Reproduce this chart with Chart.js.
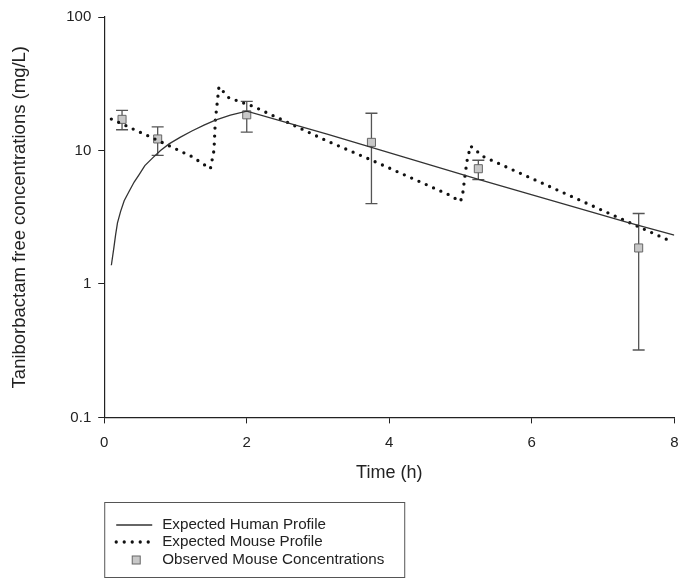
<!DOCTYPE html>
<html>
<head>
<meta charset="utf-8">
<script src="https://cdn.jsdelivr.net/npm/chart.js@4.4.1/dist/chart.umd.min.js"></script>
<style>
    body { margin: 0; background: #fff; }
    #wrap { width: 681px; height: 578px; }
</style>
</head>
<body>
<div id="wrap"><canvas id="pkChart" width="681" height="578"></canvas></div>
<script>
// values (time in h, concentration in mg/L)
const humanTimes = [0.1, 0.135, 0.16, 0.186, 0.23, 0.28, 0.35, 0.42, 0.49, 0.57, 0.68, 0.79, 0.91, 1.07, 1.23, 1.4, 1.56, 1.77, 2.0, 3.14, 5.24, 7.33, 8.0];
const humanConc = [1.38, 1.86, 2.34, 2.87, 3.5, 4.2, 4.95, 5.8, 6.6, 7.7, 8.8, 10.0, 11.2, 12.6, 14.0, 15.5, 16.9, 18.4, 19.7, 13.2, 6.1, 2.9, 2.32];

const mouseTimes = [0.1, 0.68, 1.23, 1.49, 1.54, 1.56, 1.61, 1.75, 2.1, 3.14, 3.7, 4.26, 4.82, 5.0, 5.03, 5.06, 5.09, 5.14, 5.32, 7.94];
const mouseConc = [17.2, 12.4, 9.0, 7.3, 10.0, 17.0, 30.0, 24.8, 21.3, 11.7, 8.7, 6.4, 4.7, 4.15, 4.7, 6.3, 8.3, 10.8, 9.0, 2.1];

const obsTimes = [0.25, 0.75, 2, 3.75, 5.25, 7.5];
const obsMean = [17.1, 12.2, 18.5, 11.5, 7.3, 1.86];
const obsLow = [14.3, 9.2, 13.7, 4.0, 6.05, 0.32];
const obsHigh = [20.0, 15.0, 23.3, 19.0, 8.45, 3.37];

const xTicks = [0, 2, 4, 6, 8];
const yTicks = [0.1, 1, 10, 100];
const yTickLabels = ['0.1', '1', '10', '100'];

const FONT = '"Liberation Sans", Arial, sans-serif';
const TEXT = '#222';

function toPoints(xs, ys) {
    return xs.map((t, i) => ({ x: t, y: ys[i] }));
}

// error bars drawn under the markers
const errorBars = {
    id: 'errorBars',
    beforeDatasetsDraw(chart) {
        const { ctx, scales: { x, y } } = chart;
        ctx.save();
        ctx.strokeStyle = '#555';
        ctx.lineWidth = 1.3;
        obsTimes.forEach((t, i) => {
            const px = x.getPixelForValue(t);
            const top = y.getPixelForValue(obsHigh[i]);
            const bot = y.getPixelForValue(obsLow[i]);
            ctx.beginPath();
            ctx.moveTo(px, top);
            ctx.lineTo(px, bot);
            ctx.moveTo(px - 6, top);
            ctx.lineTo(px + 6, top);
            ctx.moveTo(px - 6, bot);
            ctx.lineTo(px + 6, bot);
            ctx.stroke();
        });
        ctx.restore();
    }
};

// boxed legend under the axis title
const boxLegend = {
    id: 'boxLegend',
    afterDraw(chart) {
        const ctx = chart.ctx;
        const left = chart.chartArea.left;
        const top = chart.height - 76;
        ctx.save();
        ctx.strokeStyle = '#555';
        ctx.lineWidth = 1;
        ctx.strokeRect(left + 0.5, top + 0.5, 300, 75);
        ctx.font = '15.2px ' + FONT;
        ctx.textBaseline = 'middle';
        chart.data.datasets.forEach((ds, i) => {
            const yy = Math.round(top + 22.5 + i * 17.5);
            if (ds.showLine === false) {
                ctx.fillStyle = ds.backgroundColor;
                ctx.strokeStyle = ds.borderColor;
                ctx.lineWidth = 1;
                ctx.fillRect(left + 28, yy - 4, 8, 8);
                ctx.strokeRect(left + 28, yy - 4, 8, 8);
            } else {
                ctx.strokeStyle = ds.borderColor;
                ctx.lineWidth = ds.borderWidth;
                ctx.lineCap = ds.borderCapStyle || 'butt';
                ctx.setLineDash(ds.borderDash || []);
                ctx.beginPath();
                ctx.moveTo(left + 12, yy);
                ctx.lineTo(left + 48, yy);
                ctx.stroke();
                ctx.setLineDash([]);
            }
            ctx.fillStyle = TEXT;
            ctx.fillText(ds.label, left + 58, yy);
        });
        ctx.restore();
    }
};

const ctx = document.getElementById('pkChart').getContext('2d');

new Chart(ctx, {
    type: 'line',
    data: {
        datasets: [
            {
                label: 'Expected Human Profile',
                data: toPoints(humanTimes, humanConc),
                borderColor: '#333',
                borderWidth: 1.3,
                pointRadius: 0,
                tension: 0
            },
            {
                label: 'Expected Mouse Profile',
                data: toPoints(mouseTimes, mouseConc),
                borderColor: '#111',
                borderWidth: 3.3,
                borderDash: [0, 8],
                borderCapStyle: 'round',
                pointRadius: 0,
                tension: 0
            },
            {
                label: 'Observed Mouse Concentrations',
                data: toPoints(obsTimes, obsMean),
                showLine: false,
                pointStyle: 'rect',
                pointRadius: 5.7,
                backgroundColor: '#c8c8c8',
                borderColor: '#666',
                borderWidth: 1
            }
        ]
    },
    options: {
        responsive: false,
        animation: false,
        layout: {
            padding: { top: 17, right: 3, bottom: 94, left: 0 }
        },
        plugins: {
            legend: { display: false },
            tooltip: { enabled: false }
        },
        scales: {
            x: {
                type: 'linear',
                min: 0,
                max: 8,
                afterBuildTicks: (scale) => {
                    scale.ticks = xTicks.map(v => ({ value: v }));
                },
                afterFit: (scale) => {
                    // the "8" label is allowed to run to the canvas edge
                    scale.paddingRight = 0;
                },
                ticks: {
                    color: TEXT,
                    padding: 0,
                    font: { family: FONT, size: 15, lineHeight: '38px' }
                },
                grid: {
                    drawOnChartArea: false,
                    tickLength: 6,
                    tickWidth: 1,
                    color: '#222'
                },
                border: { color: '#222', width: 1.2 },
                title: {
                    display: true,
                    text: 'Time (h)',
                    color: TEXT,
                    font: { family: FONT, size: 18 },
                    padding: { top: 1, bottom: 0 }
                }
            },
            y: {
                type: 'logarithmic',
                min: 0.1,
                max: 100,
                afterBuildTicks: (scale) => {
                    scale.ticks = yTicks.map(v => ({ value: v }));
                },
                ticks: {
                    color: TEXT,
                    padding: 7,
                    font: { family: FONT, size: 15 },
                    callback: (value) => yTickLabels[yTicks.indexOf(value)]
                },
                grid: {
                    drawOnChartArea: false,
                    tickLength: 6,
                    tickWidth: 1,
                    color: '#222'
                },
                border: { color: '#222', width: 1.2 },
                title: {
                    display: true,
                    text: 'Taniborbactam free concentrations (mg/L)',
                    color: TEXT,
                    font: { family: FONT, size: 18.5 },
                    padding: { top: 9, bottom: 28 }
                }
            }
        }
    },
    plugins: [errorBars, boxLegend]
});
</script>
</body>
</html>
